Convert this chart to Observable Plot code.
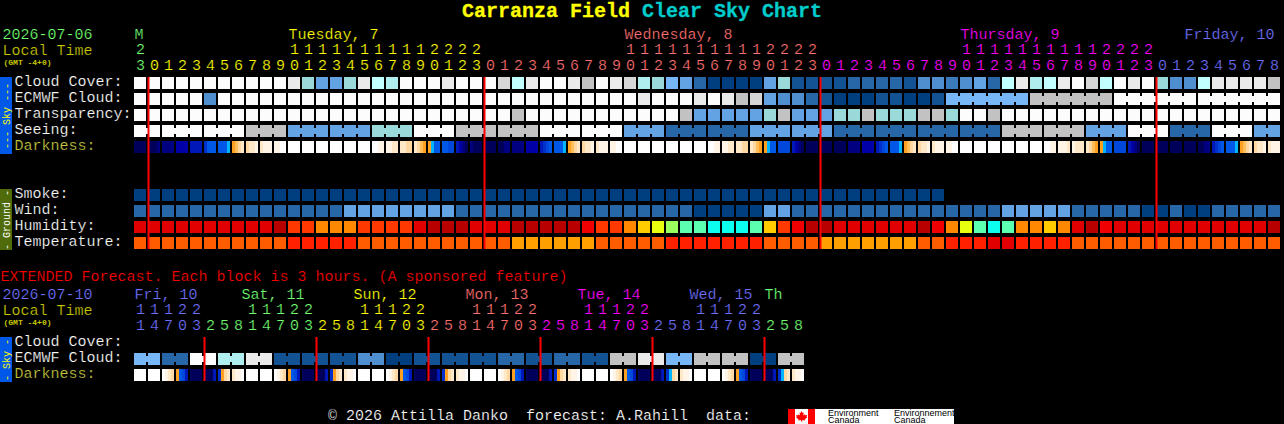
<!DOCTYPE html>
<html>
<head>
<meta charset="utf-8">
<script src="https://cdn.jsdelivr.net/npm/d3@7"></script>
<script src="https://cdn.jsdelivr.net/npm/@observablehq/plot@0.6"></script>
<style>
html,body{margin:0;padding:0;background:#000;overflow:hidden;width:1284px;height:424px}
#chart{position:relative;width:1284px;height:424px;background:#000}
#chart svg.plot{position:absolute;left:0}
#title{position:absolute;left:0;top:0;width:1284px;text-align:center;font:bold 20px/23px "Liberation Mono",monospace;color:#ffff00;white-space:pre;-webkit-text-stroke:0.3px currentColor}
#title span{color:#00cccc}
#credit{position:absolute;left:328px;top:408px;font:15px/18px "Liberation Mono",monospace;color:#fff;white-space:pre;-webkit-text-stroke:0.2px #000}
#logo{position:absolute;left:788px;top:409px;width:166px;height:15px;background:#fff;color:#000;font:9px/7px "Liberation Sans",sans-serif;overflow:hidden}
#logo i{position:absolute;top:0;height:15px;width:7px;background:#f00}
#logo b{position:absolute;top:1px;font-weight:normal;white-space:pre}
#logo svg{position:absolute;left:7px;top:0}
</style>
</head>
<body>
<div id="chart">
<div id="title">Carranza Field <span>Clear Sky Chart</span></div>
<div id="credit">© 2026 Attilla Danko  forecast: A.Rahill  data:</div>
<div id="logo"><i style="left:0"></i><i style="left:20px"></i>
<svg width="13" height="15" viewBox="0 0 13 15"><path fill="#f00" d="M6.5 2l1.2 2 1-.5-.4 3 1.5-1.2.4 1 2-.3-.6 1.8.7.4-2.6 2.2.3 1-2.7-.4V12.5H6V11l-2.7.4.3-1L1 8.2l.7-.4L1.1 6l2 .3.4-1 1.5 1.2-.4-3 1 .5z"/></svg>
<b style="left:40px">Environment
Canada</b><b style="left:106px">Environnement
Canada</b></div>
</div>
<script>
// ---------- sky levels (0 clear dark blue ... 13 white) ----------
const cloudCover = [13,13,13,13,13,13,13,13,13,13,13,12,7,5,5,7,12,9,8,13,13,
  13,12,13,13,13,11,9,12,13,13,12,10,13,12,11,8,7,6,5,2,0,0,0,0,5,7,1,1,1,1,2,
  2,2,2,1,4,4,3,4,5,2,9,12,8,9,12,13,11,9,13,12,13,7,4,4,9,12,12,12,12,10];
const ecmwfCloud = [13,13,13,13,13,4,13,13,13,13,13,13,13,13,13,13,13,13,13,13,13,
  13,13,13,13,13,13,13,13,13,13,13,13,13,13,13,12,13,13,13,12,13,12,10,11,5,4,4,2,1,0,0,
  0,1,1,0,0,1,6,6,6,6,6,6,10,10,10,10,10,10,13,13,13,13,13,13,13,13,13,13,13,13];
const ecmwfBlockStarts = [58,64,70,76];
const transparency = [13,13,13,13,13,13,13,13,13,13,13,13,13,13,13,13,13,13,13,13,13,13,13,13,13,13,13,10,
  13,13,13,13,13,13,13,13,13,13,13,10,5,5,5,5,5,7,10,5,5,5,7,7,10,7,7,7,10,10,7,13,13,10,
  13,13,13,13,13,13,13,13,13,13,13,13,13,13,13,13,13,13,13,13];
const seeingBlockStarts = [0,2,5,8,11,14,17,20,23,26,29,32,35,38,41,44,47,50,53,56,59,62,65,68,71,74,77,80];
const seeingBlocks = [13,13,13,10,5,5,7,13,10,10,13,13,5,2,2,5,5,2,2,2,2,10,10,5,13,2,13,5];
const smoke = [0,0,0,0,0,0,0,0,0,0,0,0,0,0,0,0,0,0,0,0,0,0,0,0,0,0,0,0,0,0,0,0,0,0,0,0,0,0,0,0,0,0,0,0,0,0,0,0,0,0,0,0,0,0,0,0,0,0];
const wind = [2,2,2,2,2,2,2,2,2,2,2,2,2,2,2,5,5,5,5,5,5,5,5,2,2,2,2,2,2,2,2,2,2,2,2,2,2,2,2,2,0,0,0,0,0,5,5,
  2,2,2,2,2,2,2,2,2,2,2,2,2,2,2,5,5,5,5,5,2,2,2,2,2,0,0,2,0,0,2,2,2,2,2];
const humidity = [1,1,1,1,1,1,1,1,1,1,0,3,3,4,4,4,3,3,3,3,1,
  0,0,0,1,1,1,0,0,0,0,0,2,3,3,4,5,6,7,8,8,9,9,9,8,5,3,2,0,0,1,1,
  1,1,1,1,0,2,4,6,8,9,8,4,4,5,4,1,0,2,1,1,1,1,1,1,1,1,1,1,1,0];
const temperature = [2,2,2,2,2,2,2,2,2,2,2,1,1,1,1,1,2,2,2,2,2,2,2,2,2,2,2,3,3,3,3,3,3,2,2,2,2,2,1,1,1,1,1,1,1,
  2,2,2,2,3,3,3,3,3,3,3,2,2,1,1,1,0,0,1,1,1,1,2,2,2,2,2,2,2,2,2,2,2,2,2,2,2];
const darkness = ["0000","0001","1111","2222","3333","4666","6667","89AB","ABBC","BCCC","CCDD",
  "DDDD","DDDD","DDDD","DDDD","DDDD","DDDD","DDCC","CCBB","BBAA","BA98","8766",
  "6655","3210","1000","0000","0011","1111","2222","3456","6667","89AB","ABBC","BCCC","CCDD",
  "DDDD","DDDD","DDDD","DDDD","DDDD","DDDD","DDCC","CCBB","BBAA","BA98","8766","5555","3210","0000","0000","0000","1111",
  "2222","3456","6667","89AB","ABBC","BCCC","CCDD","DDDD","DDDD","DDDD","DDDD","DDDD","DDDD","DDCC","CCCB","CBBB","BA98","8766","5555","3210",
  "0000","0000","0000","0000","0011","3456","6667","89AB","ABBC","BCCC"];
const mainHours = [23,0,1,2,3,4,5,6,7,8,9,10,11,12,13,14,15,16,17,18,19,20,21,22,23,
  0,1,2,3,4,5,6,7,8,9,10,11,12,13,14,15,16,17,18,19,20,21,22,23,
  0,1,2,3,4,5,6,7,8,9,10,11,12,13,14,15,16,17,18,19,20,21,22,23,
  0,1,2,3,4,5,6,7,8];
const mainDayNames = ["M","Tuesday, 7","Wednesday, 8","Thursday, 9","Friday, 10"];
const mainDayLabelAt = [0,11,35,59,75];
const mainDayFirstCell = [0,1,25,49,73];
const mainDayHue = ["hueGreen","hueYellow","huePink","hueMagenta","hueBlue"];
const mainMidnights = [1,25,49,73];
const skyRows = ["Cloud Cover:","ECMWF Cloud:","Transparency:","Seeing:","Darkness:"];
const groundRows = ["Smoke:","Wind:","Humidity:","Temperature:"];

const extEcmwfBlocks = [6,2,13,8,12,1,1,1,4,0,1,1,1,2,1,2,1,10,12,6,10,10,0,10];
const extDarkness = ["DDDD","DDDD","DCBA","8653","0000","0003","48AB","BCCD","DDDD","DDDD","DCBA","8653","0000","0003","48AB","BCCD",
  "DDDD","DDDD","DCBA","8653","0000","0003","48AB","BCCD","DDDD","DDDD","DCBA","8653","0000","0003","48AB","BCCD",
  "DDDD","DDDD","DCBA","8653","0000","0003","47AB","BCCD","DDDD","DDDD","DCBA","8653","0000","0003","47AB","BCCD"];
const extHours = [11,14,17,20,23,2,5,8,11,14,17,20,23,2,5,8,11,14,17,20,23,2,5,8,11,14,17,20,23,2,5,8,11,14,17,20,23,2,5,8,11,14,17,20,23,2,5,8];
const extDayNames = ["Fri, 10","Sat, 11","Sun, 12","Mon, 13","Tue, 14","Wed, 15","Th"];
const extDayLabelAt = [0,8,16,24,32,40,45];
const extDayFirstCell = [0,5,13,21,29,37,45];
const extDayHue = ["hueBlue","hueGreen","hueYellow","huePink","hueMagenta","hueBlue","hueGreen"];
const extMidnights = [5,13,21,29,37,45];
const extRows = ["Cloud Cover:","ECMWF Cloud:","Darkness:"];

// ---------- colours ----------
const skyColors = ["#003f7f","#135393","#2767a7","#3b7bbb","#4f8fcf","#63a3e3","#77b7f7","#99d9d9","#aeeeee","#c2ffff","#c2c2c2","#d6d6d6","#eaeaea","#fcfcfc"];
const darkCodes = "0123456789ABCD";
const darkColors = ["#00005a","#000080","#0000a8","#0018b8","#0030cc","#0048dc","#0058e8","#00b4ff","#ffa020","#ffbe5a","#ffd8a0","#ffe8c8","#fff4e6","#ffffff"];
const humColors = ["#b80000","#e00000","#f00000","#ff3800","#ff8800","#ffcc00","#e8ff10","#9cff60","#5cffb0","#0cffee"];
const tempColors = ["#e00000","#ff2000","#ff5c00","#ffa000"];
const hues = {hueGreen:"#70ff70",hueYellow:"#ffff00",huePink:"#ff7070",hueMagenta:"#ff00ff",hueBlue:"#7070ff"};
const colorScale = {
  type:"ordinal",
  domain:[...skyColors.map((_,i)=>"sky"+i),...darkColors.map((_,i)=>"dark"+darkCodes[i]),...humColors.map((_,i)=>"hum"+i),...tempColors.map((_,i)=>"temp"+i),...Object.keys(hues)],
  range:[...skyColors,...darkColors,...humColors,...tempColors,...Object.values(hues)]
};

// ---------- helpers ----------
const mono = "Liberation Mono, monospace";
const thin = {fontFamily:mono,fontSize:15,stroke:"#000",strokeWidth:0.22,paintOrder:"normal"};
const expandBlocks = (values, starts, total) => {
  const out = [];
  for (let b=0;b<values.length;b++){
    const end = b+1<starts.length?starts[b+1]:total;
    for (let i=starts[b];i<end;i++) out.push(values[b]);
  }
  return out;
};
const toCells = (values,row,prefix) => values.map((v,i)=>({i,row,key:prefix+v}));
const toBridges = (cells,starts) => cells.filter(c=>{
  const next = c.i+1;
  if (next>=cells.length) return false;
  return c.i>=starts[0] && !starts.includes(next);
});
const toSegments = (codes,row) => codes.flatMap((s,i)=>[...s].map((c,k)=>({i,k,n:s.length,row,key:"dark"+c})));
const hueAt = (i,firsts,huesList) => huesList[d3.bisectRight(firsts,i)-1];

const cellMark = data => Plot.rect(data,{x1:"i",x2:d=>d.i+1,y1:"row",y2:d=>d.row+1,insetRight:2,insetBottom:4,fill:"key",shapeRendering:"crispEdges"});
const bridgeMark = data => Plot.rect(data,{x1:d=>d.i+1,x2:d=>d.i+1,y1:"row",y2:d=>d.row+1,insetLeft:-2,insetTop:3,insetBottom:7,fill:"key",shapeRendering:"crispEdges"});
const segmentMark = data => Plot.rect(data,{x1:d=>d.i+d.k*(12/14)/d.n,x2:d=>d.i+(d.k+1)*(12/14)/d.n,y1:"row",y2:d=>d.row+1,insetBottom:4,fill:"key",shapeRendering:"crispEdges"});
const sideLabel = (rows,ys,fillOf) => Plot.text(rows,{y:(d,i)=>ys[i]+0.375,text:d=>d,frameAnchor:"left",dx:14,dy:-2,textAnchor:"start",...thin,fill:(d)=>fillOf(d)});
const leftText = (text,y,fill,opts={}) => Plot.text([text],{y:()=>y,text:d=>d,frameAnchor:"left",dx:2,dy:-1,textAnchor:"start",...thin,fill,...opts});
const sideBar = (y1,y2,fill) => Plot.rect([0],{y1:()=>y1,y2:()=>y2,insetRight:1272,fill,shapeRendering:"crispEdges"});
const sideText = (text,y,fill) => Plot.text([text],{y:()=>y,text:d=>d,frameAnchor:"left",dx:6,rotate:-90,textAnchor:"middle",fontFamily:mono,fontSize:10,fill});
const hourMarks = (hours,firsts,huesList,tensRow) => {
  const data = hours.map((h,i)=>({i,h,hue:hueAt(i,firsts,huesList)}));
  return [
    Plot.text(data.filter(d=>d.h>=10),{x:"i",y:()=>tensRow+0.375,text:d=>String(d.h)[0],dx:6,dy:-2,textAnchor:"middle",...thin,fill:"hue"}),
    Plot.text(data,{x:"i",y:()=>tensRow+1.375,text:d=>String(d.h%10),dx:6,dy:-2,textAnchor:"middle",...thin,fill:"hue"})
  ];
};
const base = {marginTop:0,marginRight:0,marginBottom:0,marginLeft:0,width:1284,color:colorScale,style:{background:"transparent"}};

// ---------- main chart ----------
const mainX = {axis:null,domain:[0,82],range:[134,134+14*82]};
const seeing = expandBlocks(seeingBlocks,seeingBlockStarts,82);
const skyCells = [
  ...toCells(cloudCover,3,"sky"),
  ...toCells(ecmwfCloud,4,"sky"),
  ...toCells(transparency,5,"sky"),
  ...toCells(seeing,6,"sky"),
  ...toCells(smoke,10,"sky"),
  ...toCells(wind,11,"sky")
];
const groundCells = [...toCells(humidity,12,"hum"),...toCells(temperature,13,"temp")];
const mainPlot = Plot.plot({...base,height:262,x:mainX,y:{axis:null,domain:[0,14],range:[29,29+16*14]},marks:[
  sideBar(3,7.8125,"#0058e8"),
  sideBar(10,13.8125,"#4f6b0a"),
  sideText("--- Sky ---",5.4,"#ffff00"),
  sideText("- Ground -",11.9,"#ffffff"),
  cellMark(skyCells),
  cellMark(groundCells),
  bridgeMark(toBridges(toCells(seeing,6,"sky"),seeingBlockStarts)),
  bridgeMark(toBridges(toCells(ecmwfCloud,4,"sky"),ecmwfBlockStarts)),
  segmentMark(toSegments(darkness,7)),
  Plot.ruleX(mainMidnights,{x:d=>d,y1:()=>3,y2:()=>13.75,stroke:"#ff0000",strokeWidth:2}),
  ...hourMarks(mainHours,mainDayFirstCell,mainDayHue,1),
  Plot.text(mainDayNames,{x:(d,i)=>mainDayLabelAt[i],y:()=>0.375,text:d=>d,dy:-1,textAnchor:"start",...thin,fill:(d,i)=>mainDayHue[i]}),
  leftText("2026-07-06",0.375,"#70ff70"),
  leftText("Local Time",1.375,"#c8c800"),
  leftText("(GMT -4+0)",2.06,"#c8c800",{fontSize:8,fontWeight:"bold",dx:3,dy:0,strokeWidth:0}),
  sideLabel(skyRows,[3,4,5,6,7],d=>d==="Darkness:"?"#c8c840":"#ffffff"),
  sideLabel(groundRows,[10,11,12,13],()=>"#ffffff")
]});
mainPlot.style.top="0px";
document.getElementById("chart").append(mainPlot);

// ---------- extended chart ----------
const extX = {axis:null,domain:[0,48],range:[134,134+14*48]};
const extStarts = extEcmwfBlocks.map((_,b)=>b*2);
const extEcmwf = expandBlocks(extEcmwfBlocks,extStarts,48);
const extDayShift = i => (i===0||i===extDayNames.length-1)?0:-5;
const extPlot = Plot.plot({...base,height:162,x:extX,y:{axis:null,domain:[-4,6],range:[75-64,75+96]},marks:[
  sideBar(0,2.8125,"#0058e8"),
  sideText("- Sky -",1.4,"#ffff00"),
  cellMark(toCells(extEcmwf,1,"sky")),
  bridgeMark(toBridges(toCells(extEcmwf,1,"sky"),extStarts)),
  segmentMark(toSegments(extDarkness,2)),
  Plot.ruleX(extMidnights,{x:d=>d,y1:()=>0,y2:()=>2.75,stroke:"#ff0000",strokeWidth:2}),
  ...hourMarks(extHours,extDayFirstCell,extDayHue,-2),
  Plot.text(extDayNames,{x:(d,i)=>extDayLabelAt[i]+extDayShift(i)/14,y:()=>-2.625,text:d=>d,dy:-1,textAnchor:"start",...thin,fill:(d,i)=>extDayHue[i]}),
  Plot.text(["EXTENDED Forecast. Each block is 3 hours. (A sponsored feature)"],{y:()=>-3.8,text:d=>d,frameAnchor:"left",dy:-1,textAnchor:"start",...thin,fill:"#ff0000"}),
  leftText("2026-07-10",-2.625,"#7070ff"),
  leftText("Local Time",-1.625,"#c8c800"),
  leftText("(GMT -4+0)",-0.94,"#c8c800",{fontSize:8,fontWeight:"bold",dx:3,dy:0,strokeWidth:0}),
  sideLabel(extRows,[0,1,2],d=>d==="Darkness:"?"#c8c840":"#ffffff")
]});
extPlot.style.top="262px";
document.getElementById("chart").append(extPlot);
</script>
</body>
</html>
